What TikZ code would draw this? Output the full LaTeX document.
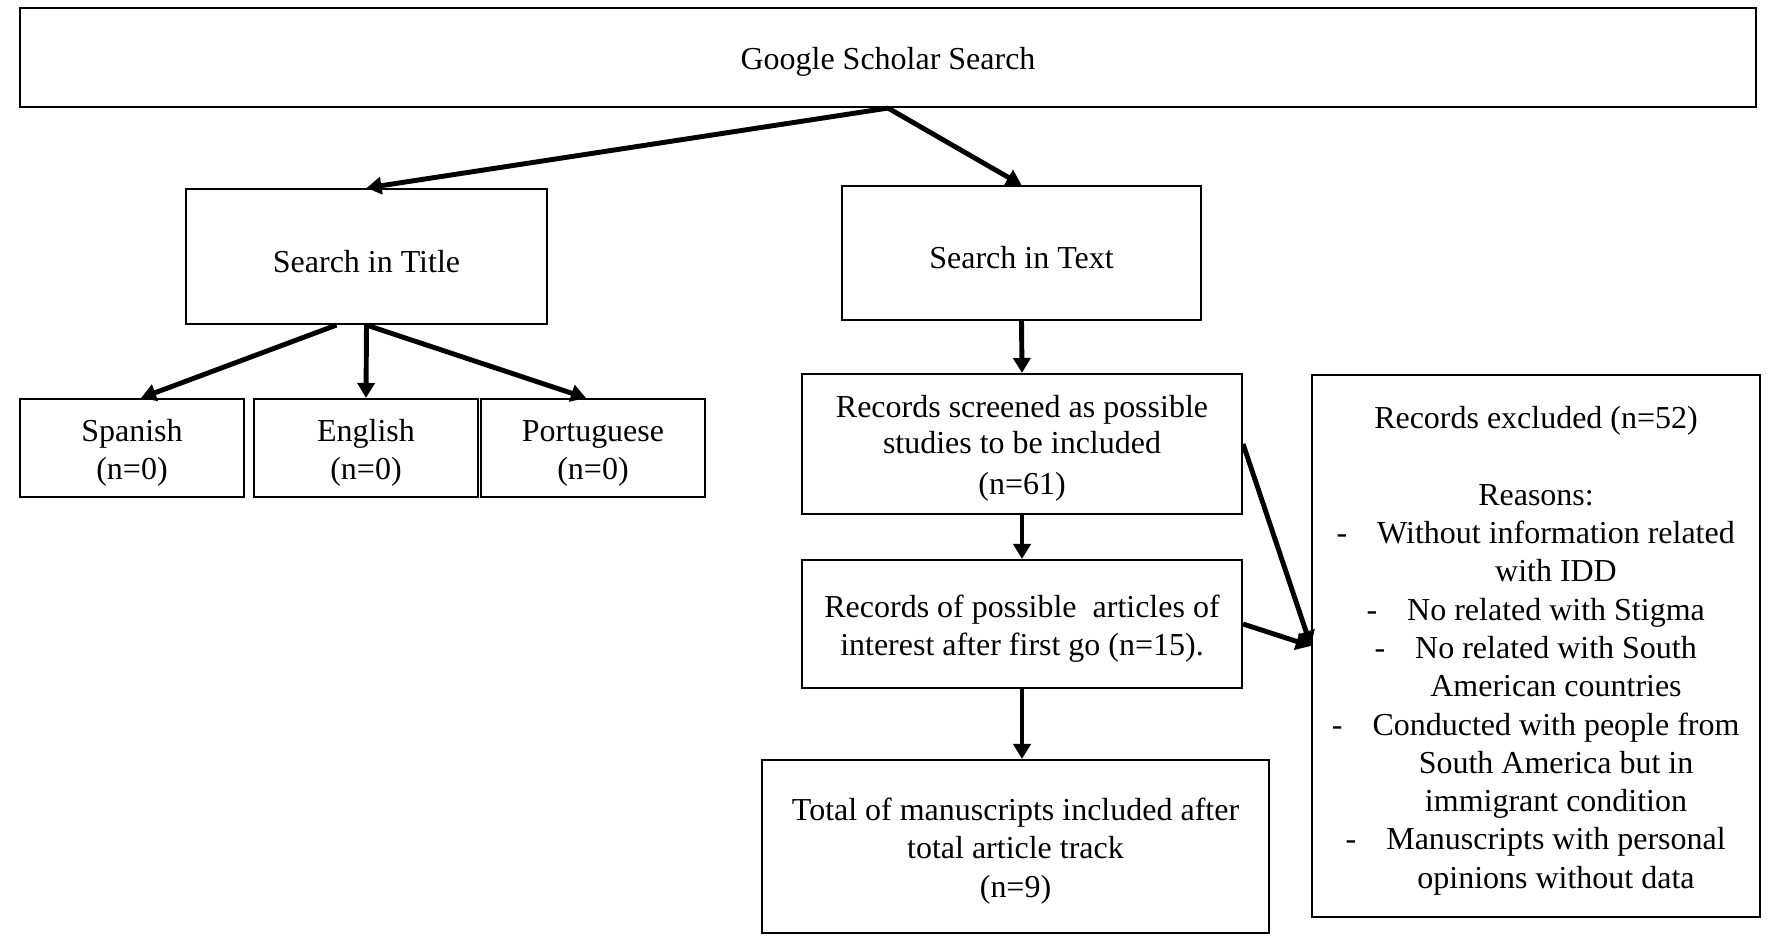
\documentclass[tikz,border=0pt]{standalone}
\usepackage{fontspec}
\setmainfont{Liberation Serif}
\usetikzlibrary{arrows.meta}

\newcommand{\topstrut}{\rule{0pt}{9pt}}
\newcommand{\reason}[1]{\hspace*{0.4cm}\llap{-\hspace{0.3cm}}#1}
\newcommand{\reasonmore}[1]{\hspace*{0.4cm}#1}

\begin{document}
\begin{tikzpicture}[
    box/.style={draw, line width=0.6pt, align=center, inner sep=0pt, font=\fontsize{9.1}{10.9}\selectfont},
    arr/.style={line width=1.4pt, -{Triangle[length=0.15cm, width=0.17cm]}}
]
    \useasboundingbox (0,0) rectangle (17.67,-9.37);

    \node[box, minimum width=17.36cm, minimum height=0.99cm] (scholar) at (8.88,-0.575) {\topstrut Google Scholar Search};

    \node[box, minimum width=3.61cm, minimum height=1.35cm] (title) at (3.665,-2.565) {\topstrut Search in Title};
    \node[box, minimum width=3.59cm, minimum height=1.34cm] (textsearch) at (10.215,-2.53) {\topstrut Search in Text};

    \node[box, minimum width=2.24cm, minimum height=0.98cm] (es) at (1.32,-4.48) {\topstrut Spanish\\(n=0)};
    \node[box, minimum width=2.24cm, minimum height=0.98cm] (en) at (3.66,-4.48) {\topstrut English\\(n=0)};
    \node[box, minimum width=2.24cm, minimum height=0.98cm] (pt) at (5.93,-4.48) {\topstrut Portuguese\\(n=0)};

    \node[box, minimum width=4.40cm, minimum height=1.40cm] (screened) at (10.22,-4.44) {\topstrut Records screened as possible\\[-0.7pt]studies to be included\\[0.8pt](n=61)};
    \node[box, minimum width=4.40cm, minimum height=1.28cm] (possible) at (10.22,-6.24) {\topstrut Records of possible\ \ articles of\\interest after first go (n=15).};
    \node[box, minimum width=5.07cm, minimum height=1.73cm] (total) at (10.155,-8.465) {\topstrut Total of manuscripts included after\\total article track\\(n=9)};

    \node[box, minimum width=4.48cm, minimum height=5.42cm] (excluded) at (15.36,-6.46) {\topstrut Records excluded (n=52)\\[10.9pt]
        Reasons:\\
        \reason{Without information related}\\
        \reasonmore{with IDD}\\
        \reason{No related with Stigma}\\
        \reason{No related with South}\\
        \reasonmore{American countries}\\
        \reason{Conducted with people from}\\
        \reasonmore{South America but in}\\
        \reasonmore{immigrant condition}\\
        \reason{Manuscripts with personal}\\
        \reasonmore{opinions without data}};

    \draw[arr] (scholar.south) -- (title.north);
    \draw[arr] (scholar.south) -- (textsearch.north);

    \draw[arr] ([xshift=-0.3cm]title.south) -- ([xshift=0.09cm]es.north);
    \draw[arr] (title.south) -- (en.north);
    \draw[arr] (title.south) -- ([xshift=-0.07cm]pt.north);

    \draw[arr] (textsearch.south) -- (screened.north);
    \draw[arr] (screened.south) -- (possible.north);
    \draw[arr] (possible.south) -- (possible.south |- total.north);

    \draw[arr] (screened.east) -- (excluded.west);
    \draw[arr] (possible.east) -- (excluded.west);
\end{tikzpicture}
\end{document}
